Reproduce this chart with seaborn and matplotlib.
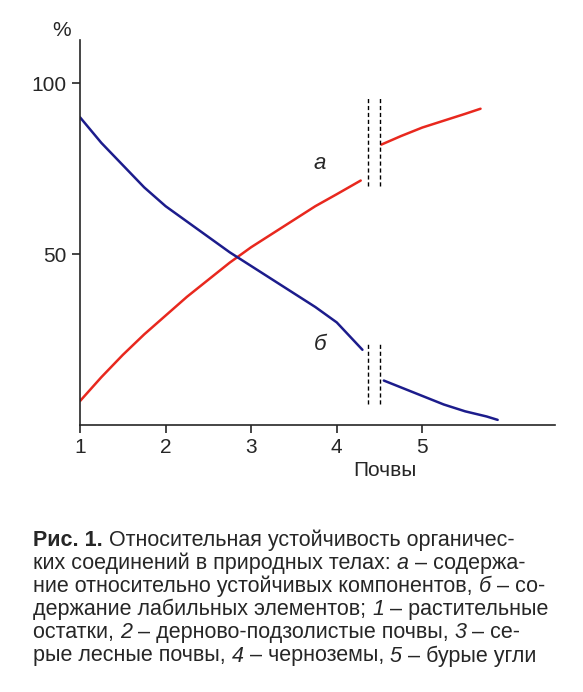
import matplotlib
matplotlib.use("Agg")
import matplotlib.pyplot as plt
import seaborn as sns

sns.set_style("ticks")
plt.rcParams['font.family'] = ['Liberation Sans', 'DejaVu Sans']

a1_x = [1.0, 1.25, 1.5, 1.75, 2.0, 2.25, 2.5, 2.75, 3.0, 3.25, 3.5, 3.75, 4.0, 4.28]
a1_y = [7, 14, 20.5, 26.5, 32, 37.5, 42.5, 47.5, 52, 56, 60, 64, 67.5, 77 - 5.5]
a1_y[-1] = 71.5
a2_x = [4.52, 4.75, 5.0, 5.25, 5.5, 5.68]
a2_y = [82, 84.5, 87, 89, 91, 92.5]
b1_x = [1.0, 1.25, 1.5, 1.75, 2.0, 2.25, 2.5, 2.75, 3.0, 3.25, 3.5, 3.75, 4.0, 4.3]
b1_y = [90, 82.5, 76, 69.5, 64, 59.5, 55, 50.5, 46.5, 42.5, 38.5, 34.5, 30, 22]
b2_x = [4.55, 4.8, 5.0, 5.25, 5.5, 5.75, 5.88]
b2_y = [13, 10.5, 8.5, 6, 4, 2.5, 1.5]
xticks = [1, 2, 3, 4, 5]
yticks = [50, 100]

W, H = 583, 692
fig = plt.figure(figsize=(W/100, H/100), dpi=100)
ax = fig.add_axes([80/W, (H-425)/H, (555-80)/W, (425-40)/H])
red, blue = "#e8281e", "#1c1c8c"
for xs, ys, c in [(a1_x, a1_y, red), (a2_x, a2_y, red), (b1_x, b1_y, blue), (b2_x, b2_y, blue)]:
    sns.lineplot(x=xs, y=ys, ax=ax, color=c, lw=1.8)
ax.set_xlim(1, 6.55)
ax.set_ylim(0, 112.6)
ax.set_xticks(xticks)
ax.set_yticks(yticks)
ax.tick_params(labelsize=15, length=6, direction='out', width=1.2)
for s in ['top', 'right']:
    ax.spines[s].set_visible(False)
for s in ['left', 'bottom']:
    ax.spines[s].set_linewidth(1.2)
for xv in [4.37, 4.5]:
    ax.plot([xv, xv], [70, 96], ls=(0, (3, 2)), color='k', lw=1)
    ax.plot([xv, xv], [6, 24], ls=(0, (3, 2)), color='k', lw=1)
ax.text(3.8, 75, "а", fontsize=16, style='italic', ha='center')
ax.text(3.8, 22, "б", fontsize=16, style='italic', ha='center')
fig.text(62/W, 1-30/H, "%", fontsize=15, ha='center', va='center')
fig.text(385/W, 1-470/H, "Почвы", fontsize=15, ha='center', va='center')

lines = [
    [("Рис. 1.", 'bold', 'normal'), (" Относительная устойчивость органичес-", 'normal', 'normal')],
    [("ких соединений в природных телах: ", 'normal', 'normal'), ("а", 'normal', 'italic'), (" – содержа-", 'normal', 'normal')],
    [("ние относительно устойчивых компонентов, ", 'normal', 'normal'), ("б", 'normal', 'italic'), (" – со-", 'normal', 'normal')],
    [("держание лабильных элементов; ", 'normal', 'normal'), ("1", 'normal', 'italic'), (" – растительные", 'normal', 'normal')],
    [("остатки, ", 'normal', 'normal'), ("2", 'normal', 'italic'), (" – дерново-подзолистые почвы, ", 'normal', 'normal'), ("3", 'normal', 'italic'), (" – се-", 'normal', 'normal')],
    [("рые лесные почвы, ", 'normal', 'normal'), ("4", 'normal', 'italic'), (" – черноземы, ", 'normal', 'normal'), ("5", 'normal', 'italic'), (" – бурые угли", 'normal', 'normal')],
]
r = fig.canvas.get_renderer()
y0 = 540
for i, runs in enumerate(lines):
    x = 33
    for txt, w, st in runs:
        t = fig.text(x/W, 1-(y0+i*23.2)/H, txt, fontsize=15.5, weight=w, style=st, va='center')
        x += t.get_window_extent(r).width
fig.savefig("out.png", dpi=100)
